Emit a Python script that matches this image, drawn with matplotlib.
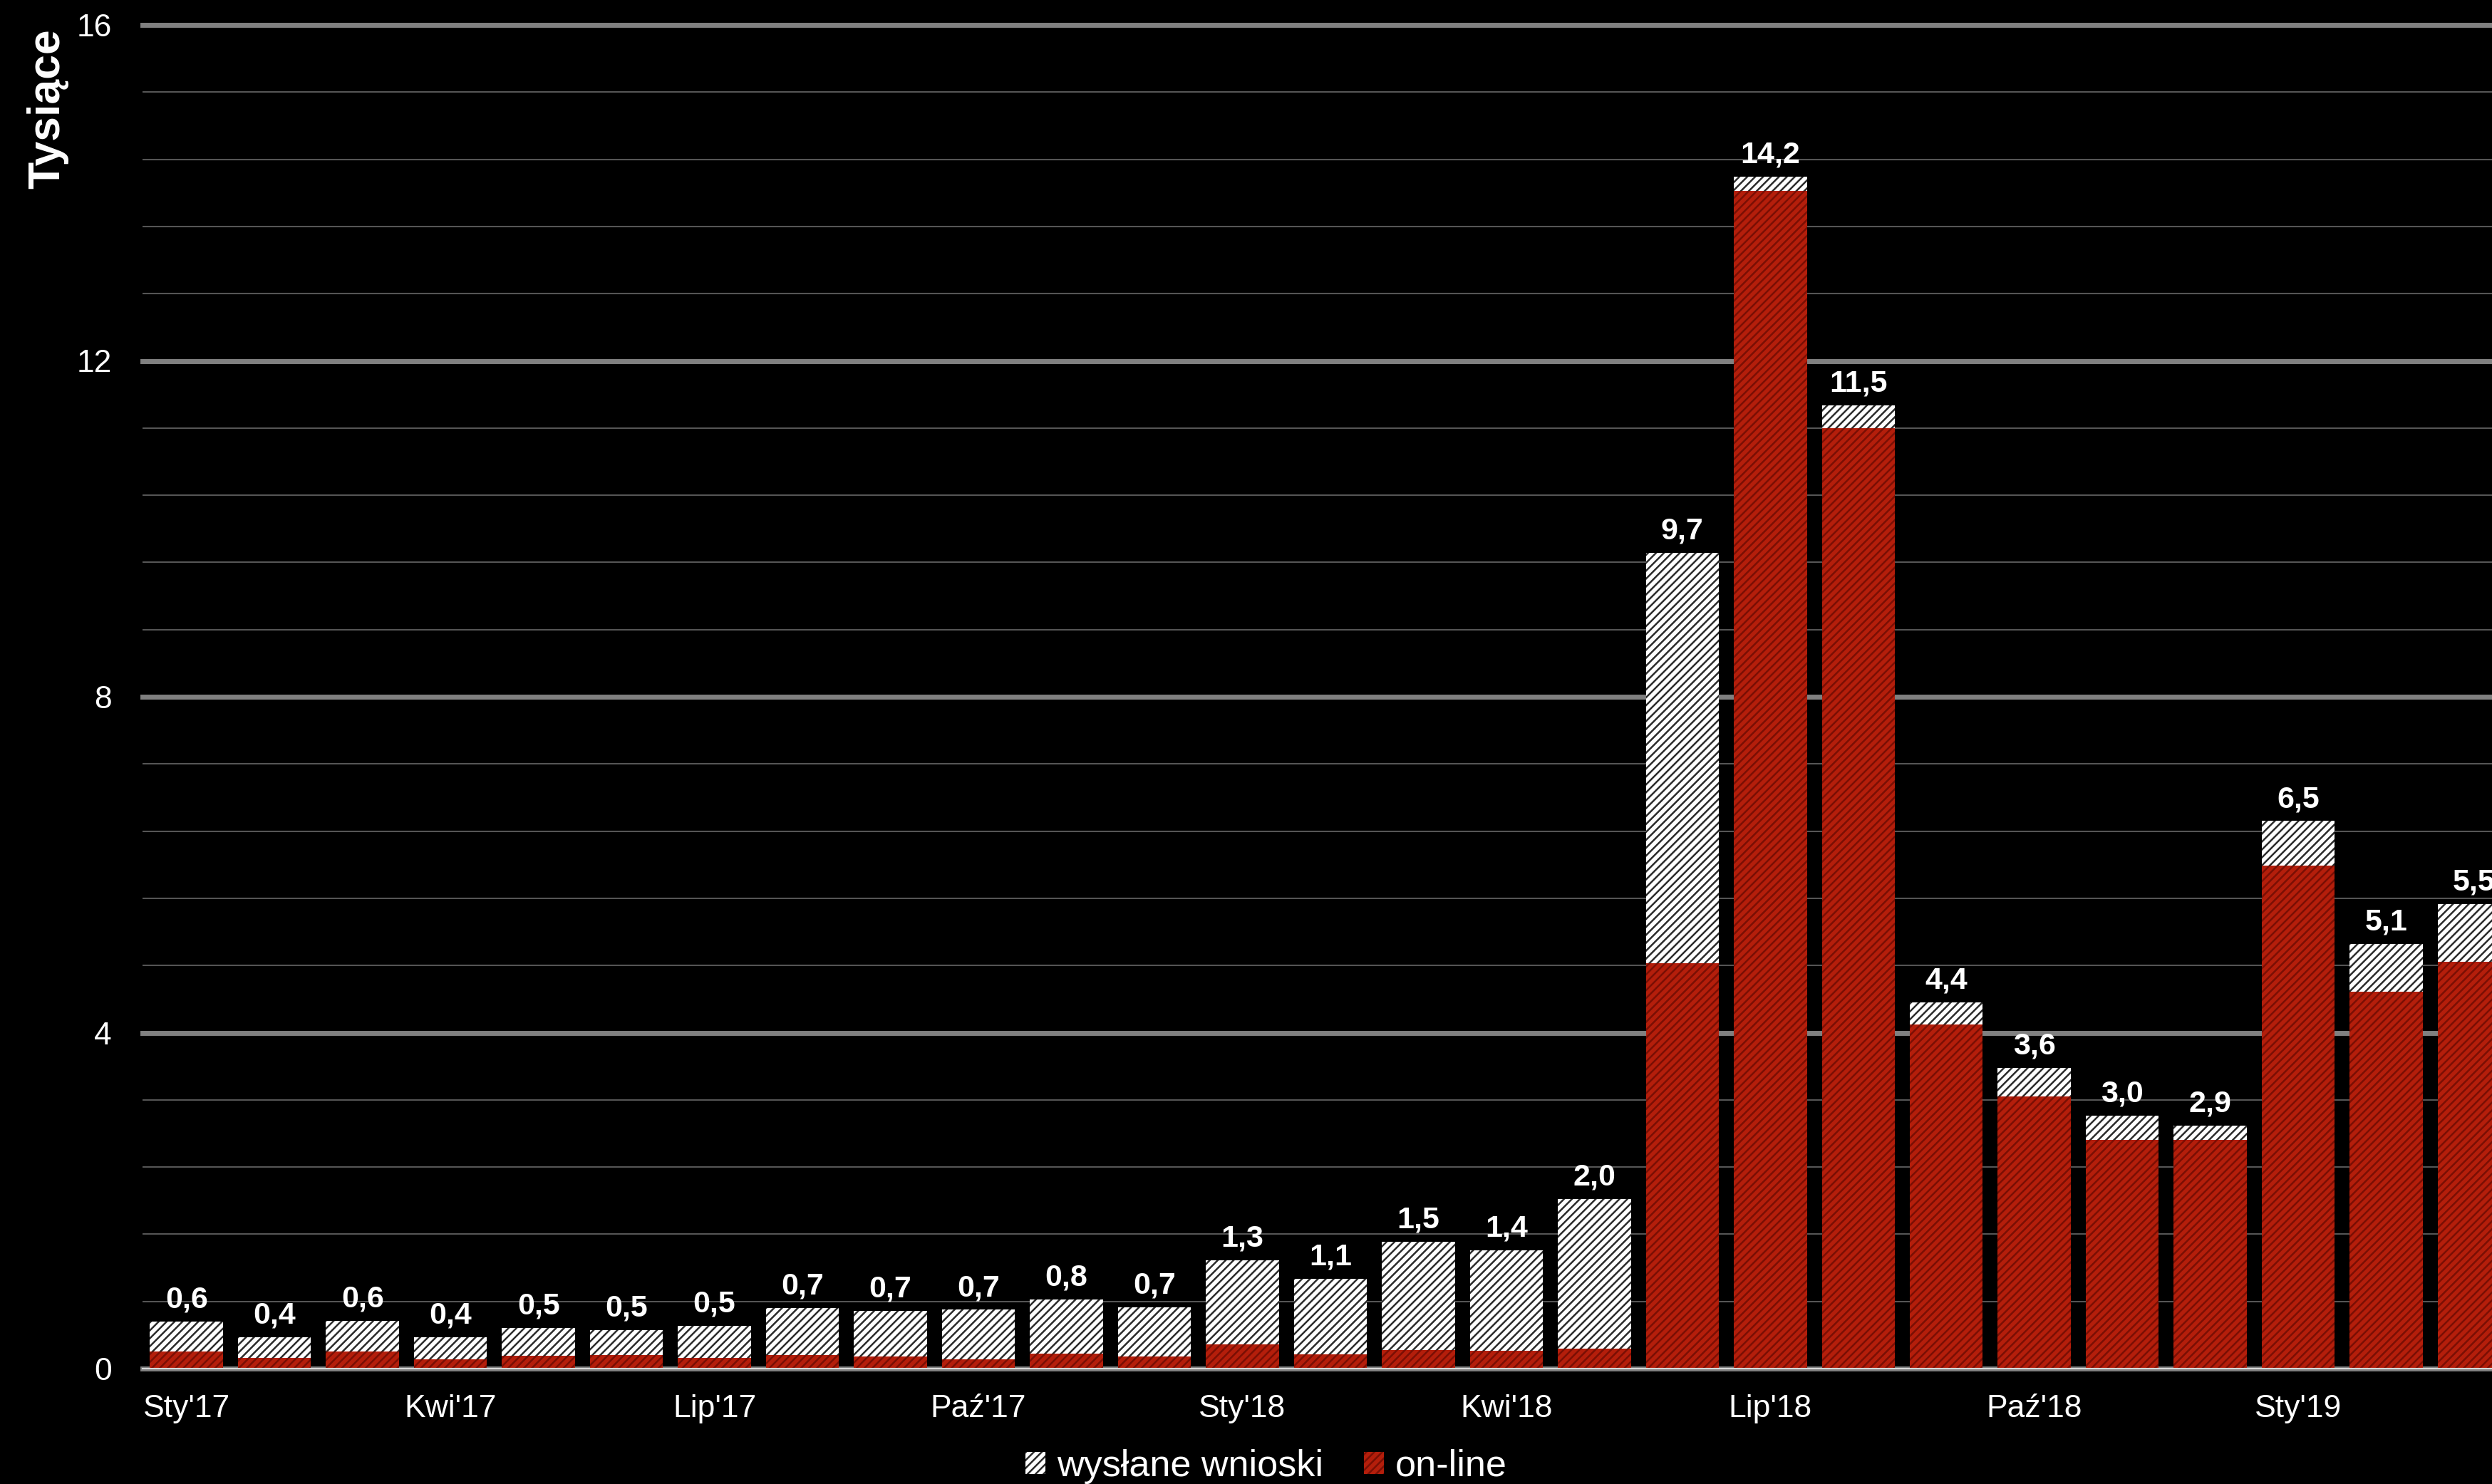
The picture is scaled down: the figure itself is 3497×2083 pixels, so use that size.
import matplotlib.pyplot as plt
import numpy as np

plt.rcParams['font.family'] = ['Liberation Sans', 'DejaVu Sans']
plt.rcParams['hatch.linewidth'] = 1.8

# months Sty'17 .. Mar'19
months = ["Sty'17", "Lut'17", "Mar'17", "Kwi'17", "Maj'17", "Cze'17",
          "Lip'17", "Sie'17", "Wrz'17", "Paź'17", "Lis'17", "Gru'17",
          "Sty'18", "Lut'18", "Mar'18", "Kwi'18", "Maj'18", "Cze'18",
          "Lip'18", "Sie'18", "Wrz'18", "Paź'18", "Lis'18", "Gru'18",
          "Sty'19", "Lut'19", "Mar'19"]

# all sent applications (thousands)
wyslane = [0.56, 0.37, 0.57, 0.37, 0.48, 0.46, 0.51, 0.72, 0.69, 0.70, 0.82, 0.73,
           1.29, 1.07, 1.51, 1.41, 2.02, 9.71, 14.19, 11.47, 4.36, 3.58, 3.01, 2.89,
           6.52, 5.06, 5.53]

# of which on-line (thousands)
online = [0.20, 0.13, 0.20, 0.11, 0.15, 0.16, 0.13, 0.16, 0.14, 0.11, 0.18, 0.14,
          0.29, 0.17, 0.22, 0.21, 0.24, 4.83, 14.02, 11.20, 4.10, 3.24, 2.72, 2.72,
          5.99, 4.49, 4.84]

W, H = 3498, 2083
fig = plt.figure(figsize=(W / 100, H / 100), dpi=100, facecolor='black')
ax = fig.add_axes([200 / W, (H - 1921) / H, 1 - 200 / W, (1921 - 35) / H])
ax.set_facecolor('black')

x = np.arange(len(months))
rest = [w - o for w, o in zip(wyslane, online)]

b_on = ax.bar(x, online, width=0.83, color='#b41e0b', edgecolor='#7a0f04',
              hatch='///', linewidth=0, label='on-line', zorder=3)
b_ws = ax.bar(x, rest, bottom=online, width=0.83, color='white', edgecolor='#2b2b2b',
              hatch='///', linewidth=0, label='wysłane wnioski', zorder=3)

# totals above bars
for xi, w in zip(x, wyslane):
    ax.annotate(f'{w:.1f}'.replace('.', ','), (xi, w), xytext=(0, 14),
                textcoords='offset points', ha='center', va='baseline',
                color='white', fontsize=31, fontweight='bold', zorder=4)

ax.set_ylim(0, 16)
ax.set_xlim(-0.5, 26.21)
ax.set_yticks([0, 4, 8, 12, 16])
ax.set_yticks(np.arange(0, 16, 0.8), minor=True)
ax.set_xticks(x[::3])
ax.set_xticklabels(months[::3])

ax.tick_params(axis='both', which='both', length=0, colors='white', labelsize=32)
ax.tick_params(axis='y', pad=31)
ax.tick_params(axis='x', pad=26)

ax.grid(axis='y', which='major', color='#808080', linewidth=5, zorder=1)
ax.grid(axis='y', which='minor', color='#555555', linewidth=1.5, zorder=1)
for ln in ax.get_ygridlines():
    ln.set_clip_on(False)
ax.set_axisbelow(True)

for s in ['top', 'right', 'left']:
    ax.spines[s].set_visible(False)
ax.spines['bottom'].set_color('#d9d9d9')
ax.spines['bottom'].set_linewidth(1.5)
ax.spines['bottom'].set_zorder(5)

fig.text(67 / W, 1 - 40 / H, 'Tysiące', rotation=90, ha='center', va='top',
         color='white', fontsize=45, fontweight='bold')

leg = fig.legend([b_ws, b_on], ['wysłane wnioski', 'on-line'], loc='center',
                 bbox_to_anchor=(0.508, 0.012), ncol=2, frameon=False, fontsize=37.5,
                 handlelength=0.54, handleheight=0.54, handletextpad=0.3,
                 columnspacing=1.1, labelcolor='white')

fig.savefig('out.png', dpi=100, facecolor='black')
